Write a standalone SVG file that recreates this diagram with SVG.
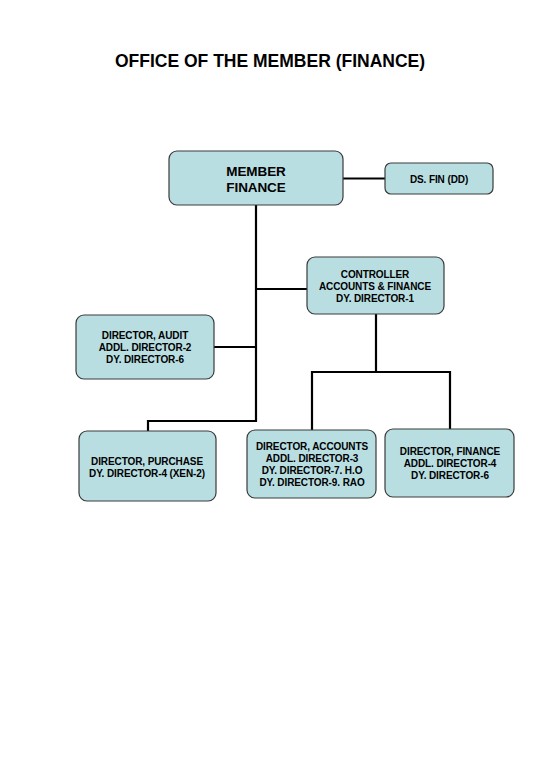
<svg xmlns="http://www.w3.org/2000/svg" width="540" height="780" viewBox="0 0 540 780">
<style>
.box{fill:#b9dee2;stroke:#3a3a3a;stroke-width:1.2}
.t{font-family:"Liberation Sans",Arial,sans-serif;font-weight:bold;font-size:10px;fill:#000;text-anchor:middle;letter-spacing:-0.1px}
.big{font-size:13.5px}
.title{font-family:"Liberation Sans",Arial,sans-serif;font-weight:bold;font-size:17.5px;fill:#000;text-anchor:middle}
.c{fill:none;stroke:#000;stroke-width:2.2}
</style>
<rect width="540" height="780" fill="#fff"/>
<text class="title" x="270" y="67">OFFICE OF THE MEMBER (FINANCE)</text>
<g id="connectors">
<path class="c" d="M343 178.5H385"/>
<path class="c" d="M256 205V421H148V431"/>
<path class="c" d="M256 289H307"/>
<path class="c" d="M214 347H256"/>
<path class="c" d="M376 314V372M312 430V372H450V429"/>
</g>
<g id="member">
<rect class="box" x="169" y="151" width="174" height="54" rx="8"/>
<text class="t big" x="256" y="176">MEMBER</text>
<text class="t big" x="256" y="192">FINANCE</text>
</g>
<g id="dsfin">
<rect class="box" x="385" y="163" width="108" height="31" rx="6"/>
<text class="t" x="439" y="183">DS. FIN (DD)</text>
</g>
<g id="controller">
<rect class="box" x="307" y="257" width="137" height="57" rx="8"/>
<text class="t" x="375" y="278">CONTROLLER</text>
<text class="t" x="375" y="290">ACCOUNTS &amp; FINANCE</text>
<text class="t" x="375" y="302">DY. DIRECTOR-1</text>
</g>
<g id="audit">
<rect class="box" x="76" y="315" width="138" height="64" rx="8"/>
<text class="t" x="145" y="339">DIRECTOR, AUDIT</text>
<text class="t" x="145" y="351">ADDL. DIRECTOR-2</text>
<text class="t" x="145" y="363">DY. DIRECTOR-6</text>
</g>
<g id="purchase">
<rect class="box" x="79" y="431" width="137" height="70" rx="8"/>
<text class="t" x="147" y="465">DIRECTOR, PURCHASE</text>
<text class="t" x="147" y="477">DY. DIRECTOR-4 (XEN-2)</text>
</g>
<g id="accounts">
<rect class="box" x="247" y="430" width="129" height="68" rx="8"/>
<text class="t" x="312" y="450">DIRECTOR, ACCOUNTS</text>
<text class="t" x="312" y="462">ADDL. DIRECTOR-3</text>
<text class="t" x="312" y="474">DY. DIRECTOR-7. H.O</text>
<text class="t" x="312" y="486">DY. DIRECTOR-9. RAO</text>
</g>
<g id="finance">
<rect class="box" x="385" y="429" width="129" height="68" rx="8"/>
<text class="t" x="450" y="455">DIRECTOR, FINANCE</text>
<text class="t" x="450" y="467">ADDL. DIRECTOR-4</text>
<text class="t" x="450" y="479">DY. DIRECTOR-6</text>
</g>
</svg>
